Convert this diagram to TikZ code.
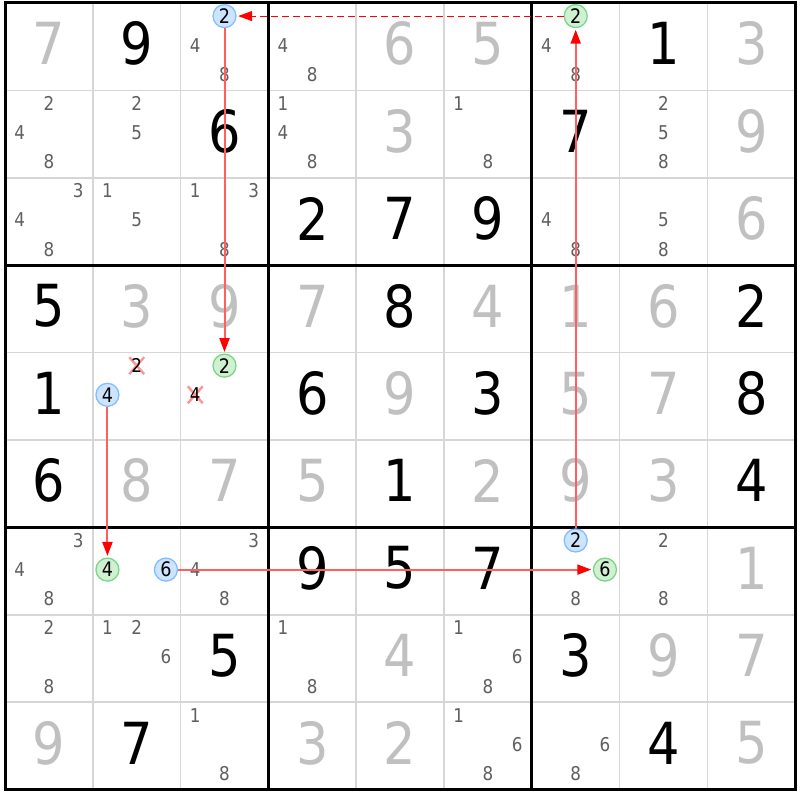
\documentclass[tikz,border=0pt]{standalone}
\usepackage{fontspec}
\setmainfont{DejaVu Sans}
\newfontfamily\digitfont[FakeStretch=0.88]{DejaVu Sans}
\usetikzlibrary{arrows.meta}

\definecolor{solvedgray}{RGB}{192,192,192}
\definecolor{candgray}{RGB}{95,95,95}
\definecolor{thingrid}{RGB}{214,214,214}
\definecolor{chainpink}{RGB}{255,95,95}
\definecolor{onfill}{RGB}{208,240,210}
\definecolor{ondraw}{RGB}{120,215,135}
\definecolor{offfill}{RGB}{205,228,255}
\definecolor{offdraw}{RGB}{130,190,255}
\definecolor{crossred}{RGB}{255,150,150}

\newcommand{\cw}{87.8}
\newcommand{\ch}{87.4}

\tikzset{
  given/.style={text=black, font={\digitfont\fontsize{58}{58}\selectfont}, inner sep=0pt},
  solved/.style={given, text=solvedgray},
  cand/.style={text=candgray, font={\digitfont\fontsize{19}{19}\selectfont}, inner sep=0pt},
  oncand/.style={cand, text=black, font={\digitfont\fontsize{20}{20}\selectfont}, circle, draw=ondraw, fill=onfill, line width=1.3pt, minimum size=23pt},
  offcand/.style={oncand, draw=offdraw, fill=offfill},
  crossline/.style={draw=crossred, line width=2.4pt},
  arrowtip/.style={-{Triangle[length=14pt, width=10pt, color=red]}, shorten >=1.5pt},
  strongarrow/.style={arrowtip, color=chainpink, line width=2pt},
  weakarrow/.style={arrowtip, color=red, line width=1pt, dash pattern=on 7pt off 4pt},
}

% big digits: given and solved
\newcommand{\givencell}[3]{\node[given] (n#1#2) at ({5+(#2-0.5)*\cw},{3+(#1-0.5)*\ch-3}) {#3};}
\newcommand{\solvedcell}[3]{\node[solved] (n#1#2) at ({5+(#2-0.5)*\cw},{3+(#1-0.5)*\ch-3}) {#3};}
% pencil marks
\newcommand{\candnum}[4][cand]{%
  \pgfmathsetmacro\candx{5+(#3-1)*\cw+(mod(#4-1,3)+0.5)*\cw/3}%
  \pgfmathsetmacro\candy{3+(#2-1)*\ch+(floor((#4-1)/3)+0.5)*\ch/3-1.5}%
  \node[#1] (c#2#3#4) at (\candx,\candy) {#4};}
\newcommand{\cands}[3]{\foreach \k in {#3} {\candnum{#1}{#2}{\k}}}
\newcommand{\crossnum}[3]{%
  \pgfmathsetmacro\candx{5+(#2-1)*\cw+(mod(#3-1,3)+0.5)*\cw/3}%
  \pgfmathsetmacro\candy{3+(#1-1)*\ch+(floor((#3-1)/3)+0.5)*\ch/3-1.5}%
  \draw[crossline] ({\candx-7.5},{\candy-8.5}) -- ({\candx+7.5},{\candy+8.5})
                   ({\candx-7.5},{\candy+8.5}) -- ({\candx+7.5},{\candy-8.5});
  \node[cand, text=black] (c#1#2#3) at (\candx,\candy) {#3};}

\begin{document}
\begin{tikzpicture}[x=1pt, y=-1pt]
  \useasboundingbox[fill=white] (0,0) rectangle (800,800);
  % grid
  \foreach \i in {1,2,4,5,7,8} {
    \draw[thingrid, line width=1.5pt] ({5+\i*\cw},3) -- ({5+\i*\cw},{3+9*\ch});
    \draw[thingrid, line width=1.5pt] (5,{3+\i*\ch}) -- ({5+9*\cw},{3+\i*\ch});
  }
  \foreach \i in {3,6} {
    \draw[black, line width=3pt] ({5+\i*\cw},3) -- ({5+\i*\cw},{3+9*\ch});
    \draw[black, line width=3pt] (5,{3+\i*\ch}) -- ({5+9*\cw},{3+\i*\ch});
  }
  \draw[black, line width=3pt] (5,3) rectangle ({5+9*\cw},{3+9*\ch});

  % row 1
  \solvedcell{1}{1}{7} \givencell{1}{2}{9}
  \candnum[offcand]{1}{3}{2} \cands{1}{3}{4,8}
  \cands{1}{4}{4,8} \solvedcell{1}{5}{6} \solvedcell{1}{6}{5}
  \candnum[oncand]{1}{7}{2} \cands{1}{7}{4,8}
  \givencell{1}{8}{1} \solvedcell{1}{9}{3}
  % row 2
  \cands{2}{1}{2,4,8} \cands{2}{2}{2,5} \givencell{2}{3}{6}
  \cands{2}{4}{1,4,8} \solvedcell{2}{5}{3} \cands{2}{6}{1,8}
  \givencell{2}{7}{7} \cands{2}{8}{2,5,8} \solvedcell{2}{9}{9}
  % row 3
  \cands{3}{1}{3,4,8} \cands{3}{2}{1,5} \cands{3}{3}{1,3,8}
  \givencell{3}{4}{2} \givencell{3}{5}{7} \givencell{3}{6}{9}
  \cands{3}{7}{4,8} \cands{3}{8}{5,8} \solvedcell{3}{9}{6}
  % row 4
  \givencell{4}{1}{5} \solvedcell{4}{2}{3} \solvedcell{4}{3}{9}
  \solvedcell{4}{4}{7} \givencell{4}{5}{8} \solvedcell{4}{6}{4}
  \solvedcell{4}{7}{1} \solvedcell{4}{8}{6} \givencell{4}{9}{2}
  % row 5
  \givencell{5}{1}{1}
  \crossnum{5}{2}{2} \candnum[offcand]{5}{2}{4}
  \candnum[oncand]{5}{3}{2} \crossnum{5}{3}{4}
  \givencell{5}{4}{6} \solvedcell{5}{5}{9} \givencell{5}{6}{3}
  \solvedcell{5}{7}{5} \solvedcell{5}{8}{7} \givencell{5}{9}{8}
  % row 6
  \givencell{6}{1}{6} \solvedcell{6}{2}{8} \solvedcell{6}{3}{7}
  \solvedcell{6}{4}{5} \givencell{6}{5}{1} \solvedcell{6}{6}{2}
  \solvedcell{6}{7}{9} \solvedcell{6}{8}{3} \givencell{6}{9}{4}
  % row 7
  \cands{7}{1}{3,4,8}
  \candnum[oncand]{7}{2}{4} \candnum[offcand]{7}{2}{6}
  \cands{7}{3}{3,4,8}
  \givencell{7}{4}{9} \givencell{7}{5}{5} \givencell{7}{6}{7}
  \candnum[offcand]{7}{7}{2} \candnum[oncand]{7}{7}{6} \cands{7}{7}{8}
  \cands{7}{8}{2,8} \solvedcell{7}{9}{1}
  % row 8
  \cands{8}{1}{2,8} \cands{8}{2}{1,2,6} \givencell{8}{3}{5}
  \cands{8}{4}{1,8} \solvedcell{8}{5}{4} \cands{8}{6}{1,6,8}
  \givencell{8}{7}{3} \solvedcell{8}{8}{9} \solvedcell{8}{9}{7}
  % row 9
  \solvedcell{9}{1}{9} \givencell{9}{2}{7} \cands{9}{3}{1,8}
  \solvedcell{9}{4}{3} \solvedcell{9}{5}{2} \cands{9}{6}{1,6,8}
  \cands{9}{7}{6,8} \givencell{9}{8}{4} \solvedcell{9}{9}{5}

  % chain
  \draw[weakarrow] (c172) -- (c132);
  \draw[strongarrow] (c132) -- (c532);
  \draw[strongarrow] (c524) -- (c724);
  \draw[strongarrow] (c726) -- (c776);
  \draw[strongarrow] (c772) -- (c172);
\end{tikzpicture}
\end{document}
